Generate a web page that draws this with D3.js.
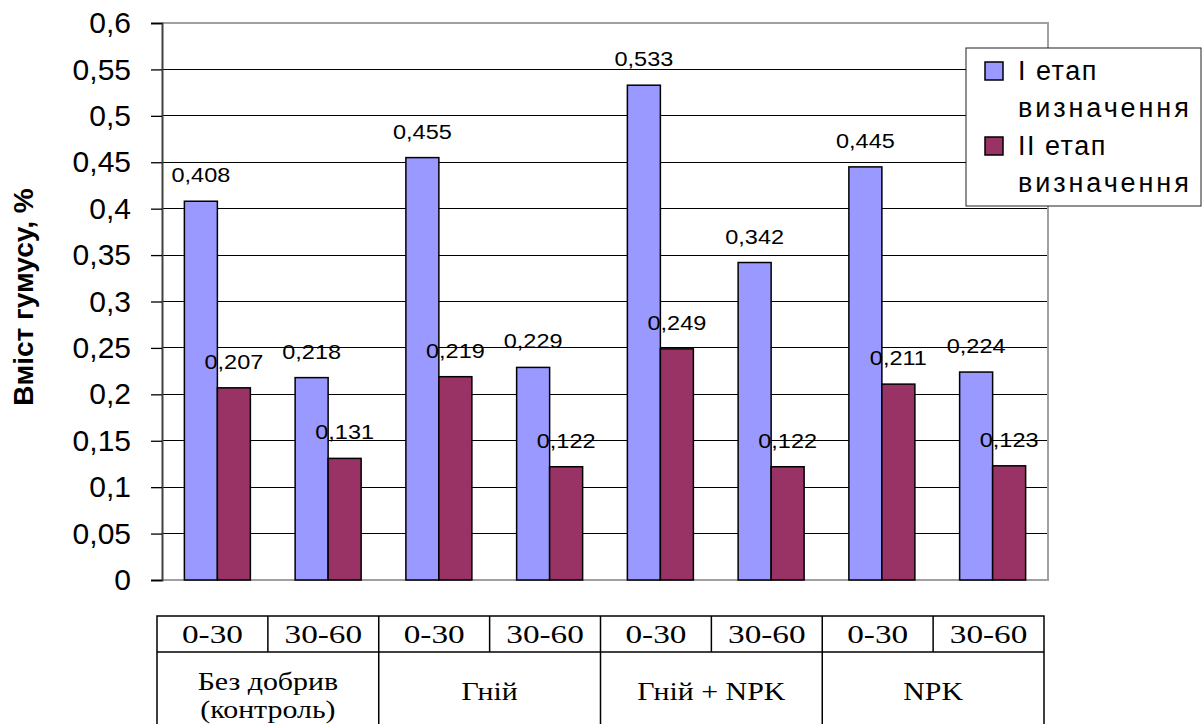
<!DOCTYPE html>
<html><head><meta charset="utf-8">
<script src="https://cdn.jsdelivr.net/npm/d3@7"></script>
<style>body{margin:0;background:#fff}svg{display:block}</style>
</head><body>
<script>
const depths = ["0-30","30-60","0-30","30-60","0-30","30-60","0-30","30-60"];
const treatments = [["Без добрив","(контроль)"],["Гній"],["Гній + NPK"],["NPK"]];
const stage1 = [0.408,0.218,0.455,0.229,0.533,0.342,0.445,0.224];
const stage2 = [0.207,0.131,0.219,0.122,0.249,0.122,0.211,0.123];
const seriesNames = ["I етап визначення","II етап визначення"];
const yTicks = [0,0.05,0.1,0.15,0.2,0.25,0.3,0.35,0.4,0.45,0.5,0.55,0.6];
const colors = ["#9999FF","#993366"];

const W=1203,H=724;
const svg=d3.select("body").append("svg").attr("width",W).attr("height",H);
const L=162,R=1048,T=23,B=580;
const y=d3.scaleLinear().domain([0,0.6]).range([B,T]);
const idx=d3.range(depths.length);
const x=d3.scaleBand().domain(idx).range([L,R]).padding(0);
const bw=x.bandwidth(), barW=33;
const xs=d3.scaleBand().domain([0,1]).range([(bw-2*barW)/2,(bw+2*barW)/2]);
const fmt=v=>String(v).replace(".",",");
const SANS="Liberation Sans, Arial, sans-serif";
const SERIF="'Liberation Serif', 'Times New Roman', serif";

// gridlines
svg.append("g").selectAll("line").data(yTicks.filter(t=>t>0&&t<0.6)).join("line")
  .attr("x1",L).attr("x2",R).attr("y1",d=>y(d)).attr("y2",d=>y(d))
  .attr("stroke","#000").attr("stroke-width",1).attr("shape-rendering","crispEdges");
// plot border (gray) top/right/bottom
svg.append("path").attr("d",`M${L},${y(0.6)}H${R}V${y(0)}H${L}`).attr("fill","none")
  .attr("stroke","#a0a0a0").attr("stroke-width",2);

// y axis
const yAxis=d3.axisLeft(y).tickValues(yTicks).tickSize(11).tickFormat(d=>fmt(d)).tickPadding(20);
const ga=svg.append("g").attr("transform",`translate(${L},0)`).call(yAxis);
ga.select(".domain").attr("stroke","#404040").attr("stroke-width",2);
ga.selectAll(".tick line").attr("stroke","#000").attr("stroke-width",1.3);
ga.selectAll(".tick text").attr("font-family",SANS).attr("font-size",30).attr("fill","#000");

// y title
svg.append("text").attr("transform","translate(33,297) rotate(-90)").attr("text-anchor","middle")
  .attr("font-family",SANS).attr("font-weight","bold").attr("font-size",28)
  .text("Вміст гумусу, %");

// bars
const series=[stage1,stage2];
series.forEach((vals,s)=>{
  svg.append("g").selectAll("rect").data(vals).join("rect")
    .attr("x",(d,i)=>x(i)+xs(s)).attr("width",xs.bandwidth())
    .attr("y",d=>y(d)).attr("height",d=>y(0)-y(d))
    .attr("fill",colors[s]).attr("stroke","#000").attr("stroke-width",1.5);
});
series.forEach((vals,s)=>{
  svg.append("g").selectAll("text").data(vals).join("text")
    .attr("transform",(d,i)=>`translate(${x(i)+xs(s)+xs.bandwidth()/2},${y(d)-19}) scale(1.12,1)`)
    .attr("text-anchor","middle").attr("font-family",SANS)
    .attr("font-size",21).text(d=>fmt(d));
});

// legend
const lg=svg.append("g");
lg.append("rect").attr("x",966).attr("y",48).attr("width",235).attr("height",158)
  .attr("fill","#fff").attr("stroke","#202020").attr("stroke-width",1);
const legLines=[["I етап","визначення"],["II етап","визначення"]];
seriesNames.forEach((n,s)=>{
  const y0=62+s*75;
  lg.append("rect").attr("x",985).attr("y",y0).attr("width",18).attr("height",18)
    .attr("fill",colors[s]).attr("stroke","#000").attr("stroke-width",1.5);
  legLines[s].forEach((t,k)=>{
    lg.append("text").attr("x",1018).attr("y",y0+18+k*37).attr("font-family",SANS)
      .attr("font-size",27).attr("letter-spacing",k===1?2.9:1.5).text(t);
  });
});

// table
const tL=157,tR=1044,tT=616,tM=652,tB=726;
const tx=d3.scaleBand().domain(idx).range([tL,tR]);
const tg=svg.append("g").attr("font-family",SERIF).attr("font-weight","normal").attr("font-size",26);
tg.append("rect").attr("x",tL).attr("y",tT).attr("width",tR-tL).attr("height",tB-tT)
  .attr("fill","none").attr("stroke","#000").attr("stroke-width",1.5);
tg.append("line").attr("x1",tL).attr("x2",tR).attr("y1",tM).attr("y2",tM).attr("stroke","#000").attr("stroke-width",1.5);
tg.selectAll("line.c").data(idx.slice(1)).join("line").attr("class","c")
  .attr("x1",d=>tx(d)).attr("x2",d=>tx(d)).attr("y1",tT).attr("y2",d=>d%2===0?tB:tM)
  .attr("stroke","#000").attr("stroke-width",1.5);
tg.selectAll("text.d").data(depths).join("text").attr("class","d")
  .attr("transform",(d,i)=>`translate(${tx(i)+tx.bandwidth()/2},643) scale(1.28,1)`)
  .attr("text-anchor","middle").text(d=>d);
treatments.forEach((lines,j)=>{
  const cx=tx(j*2)+tx.bandwidth();
  lines.forEach((t,k)=>{
    tg.append("text").attr("transform",`translate(${cx},${lines.length===1?700:690+k*28}) scale(1.15,1)`)
      .attr("text-anchor","middle").text(t);
  });
});
</script>
</body></html>
